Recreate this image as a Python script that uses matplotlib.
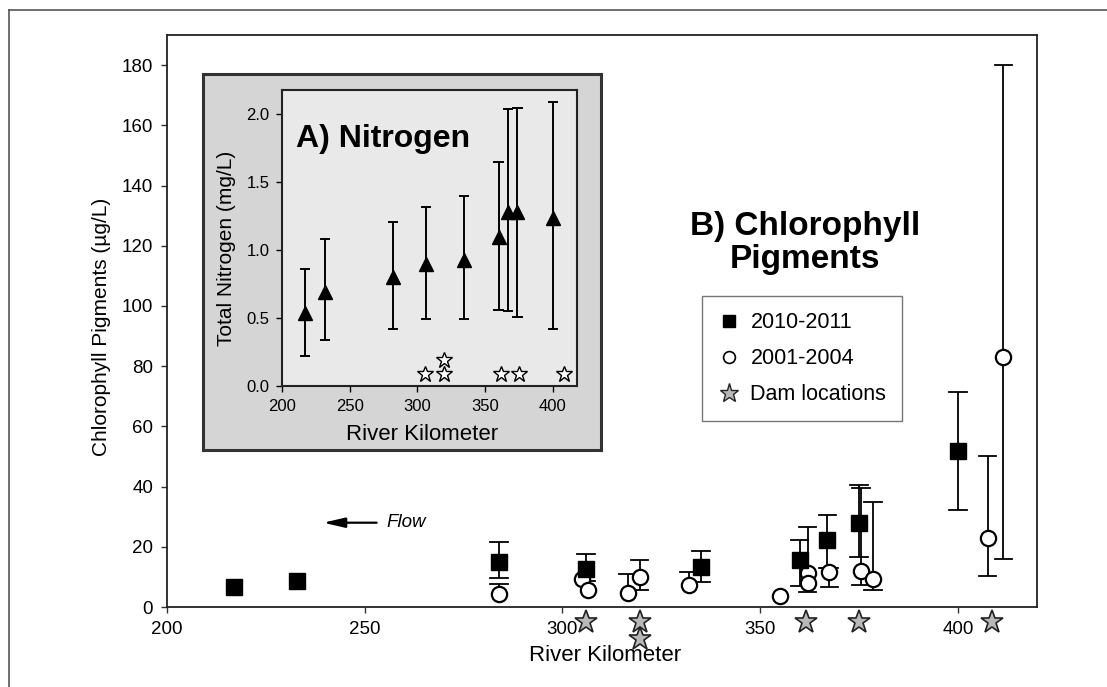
import numpy as np
import matplotlib
matplotlib.use("Agg")
import matplotlib.pyplot as plt
from matplotlib.lines import Line2D

plt.rcParams["font.family"] = ["Liberation Sans", "DejaVu Sans"]

# --- B) chlorophyll pigments, 2010-2011 (filled squares) ---
sq_km = [217, 233, 284, 306, 335, 360, 367, 375, 400]
sq_val = [6.6, 8.6, 14.8, 12.5, 13.3, 15.6, 22.3, 27.9, 51.9]
sq_hi = [np.nan, np.nan, 21.6, 17.6, 18.6, 22.3, 30.6, 40.6, 71.5]
sq_lo = [np.nan, np.nan, 9.6, 8.5, 8.3, 7.0, 13.0, 16.7, 32.3]

# --- B) chlorophyll pigments, 2001-2004 (open circles) ---
ci_km = [284, 305, 306.5, 316.5, 319.5, 332, 355, 362, 362, 367.5, 375.5, 378.5, 407.5, 411.5]
ci_val = [4.3, 9.3, 5.8, 4.7, 10.0, 7.3, 3.7, 11.3, 8.0, 11.6, 12.0, 9.3, 23.0, 83.0]
ci_hi = [7.5, np.nan, np.nan, 11.0, 15.6, 11.6, np.nan, 26.6, np.nan, 13.0, 39.5, 35.0, 50.0, 180.0]
ci_lo = [np.nan, np.nan, np.nan, np.nan, 5.7, np.nan, np.nan, 5.0, np.nan, 6.7, 7.3, 5.7, 10.3, 16.0]

# --- dam locations ---
dam_km = [306, 319.5, 319.5, 361.5, 375, 408.5]
dam_main_y = [-5, -5, -10.5, -5, -5, -5]
dam_inset_y = [0.09, 0.09, 0.19, 0.09, 0.09, 0.09]

# --- A) total nitrogen (inset) ---
n_km = [217, 232, 282, 306.5, 334.5, 360, 367, 374, 400]
n_val = [0.54, 0.69, 0.80, 0.90, 0.93, 1.10, 1.28, 1.28, 1.24]
n_hi = [0.86, 1.08, 1.21, 1.32, 1.40, 1.65, 2.04, 2.05, 2.09]
n_lo = [0.22, 0.34, 0.42, 0.49, 0.49, 0.56, 0.55, 0.51, 0.42]

W, H = 1107, 687


def fig_rect(x0, y0, x1, y1):
    # pixel box (top-left origin) -> figure fraction rect
    return [x0 / W, 1 - y1 / H, (x1 - x0) / W, (y1 - y0) / H]


def draw_err(ax, x, y, hi, lo, capw, lw):
    # error bars where either side may be missing (nan)
    for xi, yi, h, l in zip(x, y, hi, lo):
        top = yi if np.isnan(h) else h
        bot = yi if np.isnan(l) else l
        if top == bot:
            continue
        ax.plot([xi, xi], [bot, top], color="black", lw=lw, zorder=2, solid_capstyle="butt")
        if not np.isnan(h):
            ax.plot([xi - capw, xi + capw], [h, h], color="black", lw=lw, zorder=2)
        if not np.isnan(l):
            ax.plot([xi - capw, xi + capw], [l, l], color="black", lw=lw, zorder=2)


fig = plt.figure(figsize=(W / 100, H / 100), dpi=100)

# outer frame (top and left edges visible)
fig.add_artist(Line2D([9 / W, 9 / W], [0, 1 - 10 / H], color="#555555", lw=1.2))
fig.add_artist(Line2D([9 / W, 1], [1 - 10 / H, 1 - 10 / H], color="#555555", lw=1.2))

ax = fig.add_axes(fig_rect(167, 35, 1037, 607))
ax.set_xlim(200, 420)
ax.set_ylim(0, 190)
ax.set_xticks([200, 250, 300, 350, 400])
ax.set_yticks(range(0, 181, 20))
ax.tick_params(labelsize=13.5, length=4, width=1, pad=6, color="#333333")
for s in ax.spines.values():
    s.set_linewidth(1.3)
    s.set_color("#222222")

draw_err(ax, ci_km, ci_val, ci_hi, ci_lo, 2.2, 1.3)
draw_err(ax, sq_km, sq_val, sq_hi, sq_lo, 2.2, 1.3)

ax.plot(ci_km, ci_val, "o", ms=11, mfc="white", mec="black", mew=1.6, ls="none", zorder=3)
ax.plot(sq_km, sq_val, "s", ms=11.5, mfc="black", mec="black", ls="none", zorder=4)
ax.plot(dam_km, dam_main_y, "*", ms=17, mfc="#b8b8b8", mec="#222222", mew=1.2,
        ls="none", clip_on=False, zorder=5)

ax.set_xlabel("River Kilometer", fontsize=16)
ax.xaxis.set_label_coords(0.503, -0.066)
ax.set_ylabel("Chlorophyll Pigments (\u00b5g/L)", fontsize=15)
ax.yaxis.set_label_coords(-0.064, 0.49)

# flow arrow
ax.annotate("", xy=(239.5, 28), xytext=(253, 28),
            arrowprops=dict(arrowstyle="-|>,head_length=1.3,head_width=0.3",
                            color="black", lw=1.6, shrinkA=0, shrinkB=0))
ax.text(255.5, 28, "Flow", fontsize=13.5, style="italic", va="center", ha="left")

# legend
handles = [
    Line2D([], [], marker="s", ls="none", ms=8, mfc="black", mec="black"),
    Line2D([], [], marker="o", ls="none", ms=8.5, mfc="white", mec="black", mew=1.2),
    Line2D([], [], marker="*", ls="none", ms=14, mfc="#b8b8b8", mec="#222222", mew=1.0),
]
leg = ax.legend(handles, ["2010-2011", "2001-2004", "Dam locations"],
                loc="upper left", bbox_to_anchor=(702 / W, 1 - 296 / H),
                bbox_transform=fig.transFigure, borderaxespad=0, fontsize=15.5,
                frameon=True, fancybox=False, edgecolor="#555555",
                handletextpad=0.5, labelspacing=0.7, borderpad=0.75,
                handlelength=1.0)
leg.get_frame().set_linewidth(1.0)

fig.text(805 / W, 1 - 243 / H, "B) Chlorophyll\nPigments", fontsize=24,
         fontweight="bold", ha="center", va="center", linespacing=1.08)

# inset panel
panel = fig.add_axes(fig_rect(203, 74, 601, 450), zorder=3)
panel.set_facecolor("#d5d5d5")
panel.set_xticks([])
panel.set_yticks([])
for s in panel.spines.values():
    s.set_linewidth(2.2)
    s.set_color("#333333")

ins = fig.add_axes(fig_rect(282, 90, 577, 386), zorder=4)
ins.set_facecolor("#e9e9e9")
ins.set_xlim(200, 418)
ins.set_ylim(0, 2.18)
ins.set_xticks([200, 250, 300, 350, 400])
ins.set_yticks([0.0, 0.5, 1.0, 1.5, 2.0])
ins.set_yticklabels(["0.0", "0.5", "1.0", "1.5", "2.0"])
ins.tick_params(labelsize=12, length=4, width=1, pad=5)
for s in ins.spines.values():
    s.set_linewidth(1.5)
    s.set_color("#222222")

draw_err(ins, n_km, n_val, n_hi, n_lo, 3.0, 1.4)
ins.plot(n_km, n_val, "^", ms=10, mfc="black", mec="black", ls="none", zorder=3)
ins.plot(dam_km, dam_inset_y, "*", ms=12, mfc="white", mec="black", mew=1.0,
         ls="none", zorder=4)

ins.set_xlabel("River Kilometer", fontsize=16)
ins.xaxis.set_label_coords(0.475, -0.13)
ins.set_ylabel("Total Nitrogen (mg/L)", fontsize=15)
ins.yaxis.set_label_coords(-0.155, 0.466)

ins.text(296 / W, 1 - 147 / H, "A) Nitrogen", transform=fig.transFigure,
         fontsize=23, fontweight="bold", ha="left", va="baseline", zorder=6)

fig.savefig("out.png", dpi=100)
